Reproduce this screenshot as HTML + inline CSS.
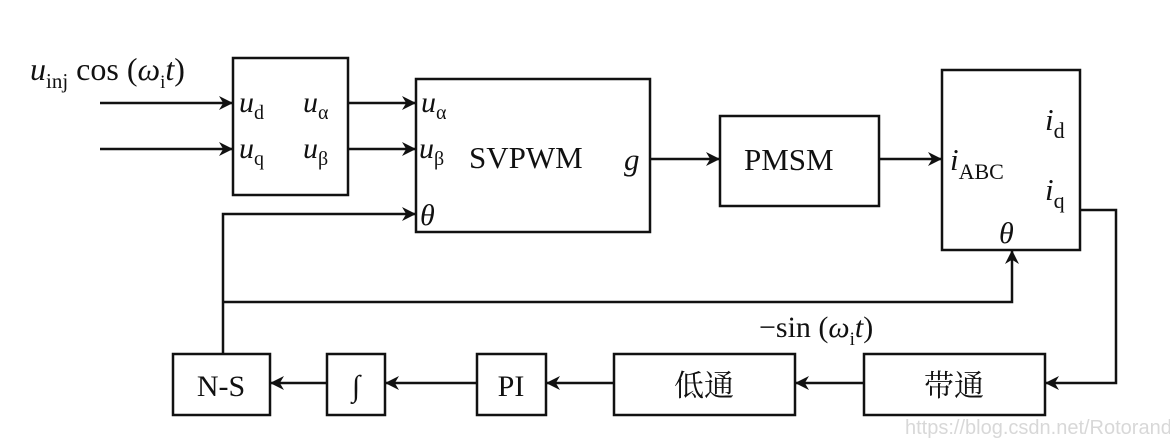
<!DOCTYPE html>
<html><head><meta charset="utf-8"><style>
html,body{margin:0;padding:0;background:#fff;}
svg{display:block;}
text{font-family:"Liberation Serif","Noto Serif CJK SC",serif;fill:#111;}
.i{font-style:italic;}
</style></head><body>
<svg width="1170" height="441" viewBox="0 0 1170 441" xmlns="http://www.w3.org/2000/svg">
<defs>
<marker id="a" viewBox="0 0 10 10" refX="10" refY="5" markerWidth="14" markerHeight="14" markerUnits="userSpaceOnUse" orient="auto">
<path d="M0,0 L10,5 L0,10 L3,5 z" fill="#111"/></marker>
</defs>
<g fill="none" stroke="#111" stroke-width="2.5">
<rect x="233" y="58" width="115" height="137"/>
<rect x="416" y="79" width="234" height="153"/>
<rect x="720" y="116" width="159" height="90"/>
<rect x="942" y="70" width="138" height="180"/>
<rect x="173" y="354" width="97" height="61"/>
<rect x="327" y="354" width="58" height="61"/>
<rect x="477" y="354" width="69" height="61"/>
<rect x="614" y="354" width="181" height="61"/>
<rect x="864" y="354" width="181" height="61"/>
</g>
<g fill="none" stroke="#111" stroke-width="2.5" marker-end="url(#a)">
<line x1="100" y1="103" x2="233" y2="103"/>
<line x1="100" y1="149" x2="233" y2="149"/>
<line x1="348" y1="103" x2="416" y2="103"/>
<line x1="348" y1="149" x2="416" y2="149"/>
<polyline points="223,354 223,214 416,214"/>
<polyline points="223,302 1012,302 1012,250"/>
<line x1="650" y1="159" x2="720" y2="159"/>
<line x1="879" y1="159" x2="942" y2="159"/>
<polyline points="1080,210 1116,210 1116,383 1045,383"/>
<line x1="864" y1="383" x2="795" y2="383"/>
<line x1="614" y1="383" x2="546" y2="383"/>
<line x1="477" y1="383" x2="385" y2="383"/>
<line x1="327" y1="383" x2="270" y2="383"/>
</g>
<text x="30" y="80" font-size="32"><tspan class="i">u</tspan><tspan font-size="21" dy="8">inj</tspan><tspan dy="-8"> cos (</tspan><tspan class="i">ω</tspan><tspan font-size="19" dy="8">i</tspan><tspan class="i" dy="-8">t</tspan>)</text>
<text x="239" y="112" font-size="30"><tspan class="i">u</tspan><tspan font-size="20" dy="7">d</tspan></text>
<text x="239" y="158" font-size="30"><tspan class="i">u</tspan><tspan font-size="20" dy="7">q</tspan></text>
<text x="303" y="112" font-size="30"><tspan class="i">u</tspan><tspan font-size="20" dy="7">α</tspan></text>
<text x="303" y="158" font-size="30"><tspan class="i">u</tspan><tspan font-size="20" dy="7">β</tspan></text>
<text x="421" y="112" font-size="30"><tspan class="i">u</tspan><tspan font-size="20" dy="7">α</tspan></text>
<text x="419" y="158" font-size="30"><tspan class="i">u</tspan><tspan font-size="20" dy="7">β</tspan></text>
<text x="420" y="225" font-size="30" class="i">θ</text>
<text x="469" y="168" font-size="31">SVPWM</text>
<text x="624" y="170" font-size="31" class="i">g</text>
<text x="744" y="170" font-size="31">PMSM</text>
<text x="950" y="170" font-size="31"><tspan class="i">i</tspan><tspan font-size="22" dy="9">ABC</tspan></text>
<text x="1045" y="130" font-size="31"><tspan class="i">i</tspan><tspan font-size="22" dy="8">d</tspan></text>
<text x="1045" y="200" font-size="31"><tspan class="i">i</tspan><tspan font-size="22" dy="8">q</tspan></text>
<text x="999" y="243" font-size="30" class="i">θ</text>
<text x="759" y="337" font-size="30">−sin (<tspan class="i">ω</tspan><tspan font-size="19" dy="8">i</tspan><tspan class="i" dy="-8">t</tspan>)</text>
<text x="221" y="396" font-size="30" text-anchor="middle">N-S</text>
<text x="356" y="396" font-size="30" text-anchor="middle">∫</text>
<text x="511" y="396" font-size="30" text-anchor="middle">PI</text>
<text x="704" y="396" font-size="30" text-anchor="middle">低通</text>
<text x="954" y="396" font-size="30" text-anchor="middle">带通</text>
<text x="905" y="434" font-size="20" style="font-family:'Liberation Sans',sans-serif;fill:#d8d8d8">https://blog.csdn.net/RotorandStator</text>
</svg>
</body></html>
